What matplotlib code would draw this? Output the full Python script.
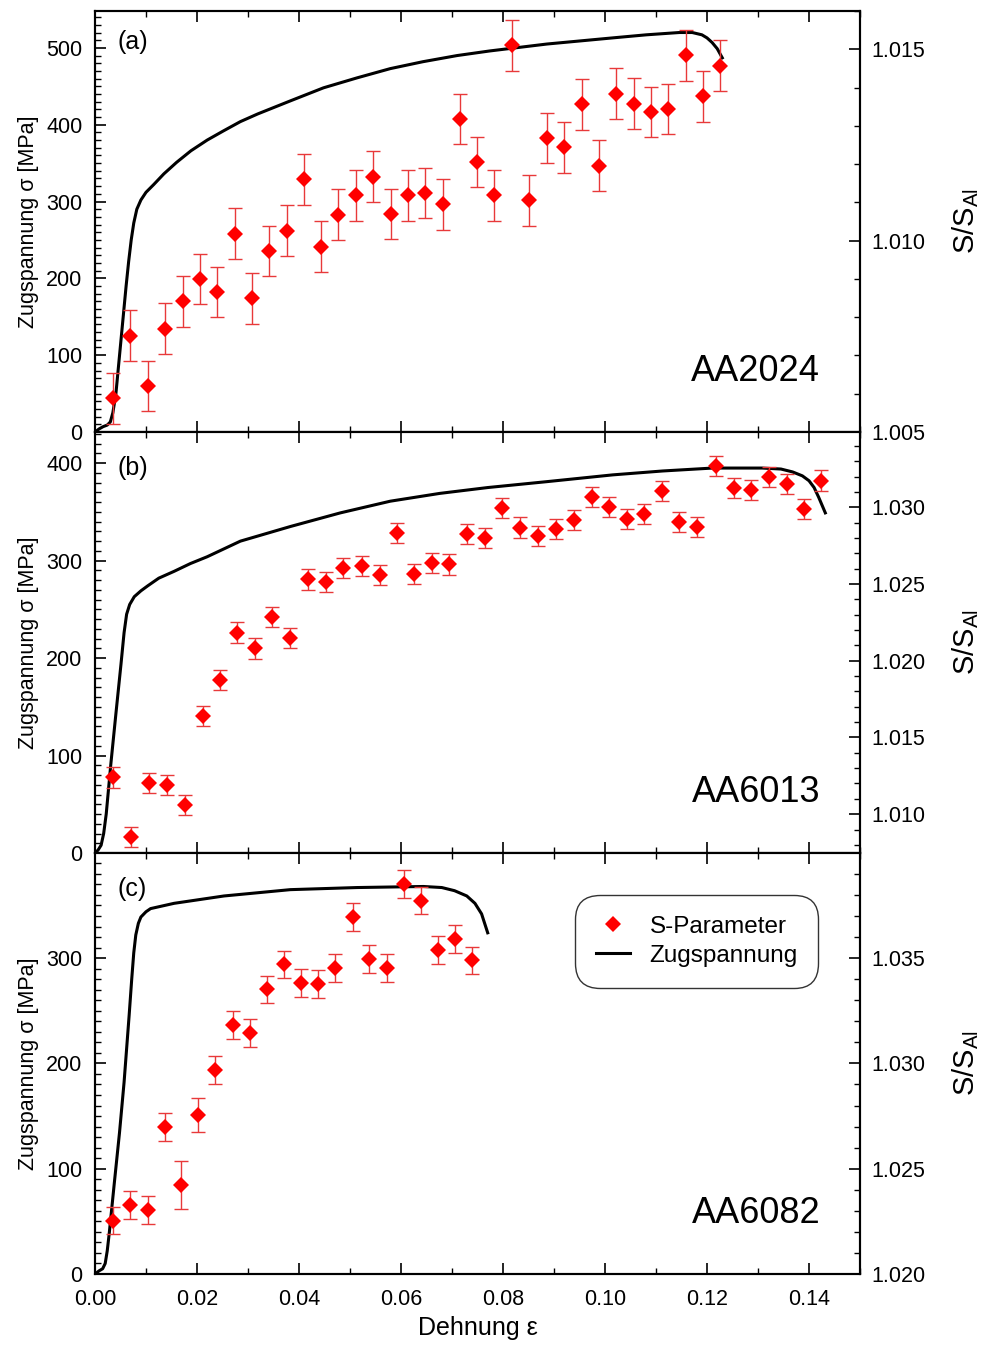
import matplotlib
matplotlib.use("Agg")
import matplotlib.pyplot as plt
from matplotlib.ticker import MultipleLocator, FormatStrFormatter
from matplotlib.lines import Line2D

plt.rcParams['font.family'] = ['Liberation Sans', 'DejaVu Sans']
plt.rcParams['mathtext.fontset'] = 'custom'
plt.rcParams['mathtext.rm'] = 'Liberation Sans'

# ---------------- data ----------------
# (a) AA2024
a_strain_s = [0.0035, 0.0069, 0.0104, 0.0138, 0.0172, 0.0206, 0.0239, 0.0274, 0.0308,
              0.0342, 0.0376, 0.0410, 0.0444, 0.0477, 0.0512, 0.0545, 0.0580, 0.0614,
              0.0648, 0.0682, 0.0716, 0.0749, 0.0783, 0.0817, 0.0851, 0.0886, 0.0920,
              0.0954, 0.0988, 0.1022, 0.1056, 0.1090, 0.1124, 0.1158, 0.1192, 0.1226]
a_S = [1.00588, 1.00752, 1.00620, 1.00770, 1.00841, 1.00900, 1.00866, 1.01018, 1.00849,
       1.00973, 1.01026, 1.01160, 1.00984, 1.01068, 1.01118, 1.01167, 1.01070, 1.01118,
       1.01125, 1.01095, 1.01318, 1.01206, 1.01118, 1.01510, 1.01105, 1.01268, 1.01244,
       1.01356, 1.01196, 1.01384, 1.01358, 1.01336, 1.01344, 1.01484, 1.01377, 1.01457]
a_S_err = [0.00066] * 36
a_strain_t = [0.0, 0.0008, 0.0016, 0.0024, 0.0030, 0.0035, 0.0041, 0.0046, 0.0051, 0.0056,
              0.0061, 0.0066, 0.0071, 0.0076, 0.0082, 0.0090, 0.0100, 0.0115, 0.0135,
              0.0160, 0.0188, 0.0220, 0.0252, 0.0285, 0.0319, 0.0383, 0.0448, 0.0514,
              0.0579, 0.0643, 0.0710, 0.0774, 0.0886, 0.1015, 0.1081, 0.1146, 0.1171,
              0.1190, 0.1200, 0.1210, 0.1220, 0.1230]
a_sigma = [0, 4, 7, 9, 13, 25, 50, 85, 120, 155,
           190, 222, 250, 272, 290, 302, 312, 322, 336,
           351, 366, 380, 392, 404, 414, 431, 448, 461,
           473, 482, 490, 496, 505, 513, 517, 520, 520,
           517, 513, 507, 499, 487]

# (b) AA6013
b_strain_s = [0.0036, 0.0071, 0.0106, 0.0141, 0.0177, 0.0211, 0.0245, 0.0279, 0.0313,
              0.0348, 0.0383, 0.0418, 0.0453, 0.0487, 0.0523, 0.0559, 0.0592, 0.0626,
              0.0661, 0.0695, 0.0729, 0.0764, 0.0799, 0.0834, 0.0869, 0.0904, 0.0939,
              0.0974, 0.1008, 0.1043, 0.1077, 0.1112, 0.1146, 0.1181, 0.1217, 0.1252,
              0.1286, 0.1321, 0.1356, 0.1390, 0.1424]
b_S = [1.01239, 1.00850, 1.01203, 1.01192, 1.01059, 1.01638, 1.01876, 1.02183, 1.02080,
       1.02283, 1.02150, 1.02529, 1.02514, 1.02603, 1.02616, 1.02558, 1.02834, 1.02564,
       1.02638, 1.02627, 1.02827, 1.02801, 1.02995, 1.02867, 1.02812, 1.02858, 1.02919,
       1.03065, 1.03002, 1.02925, 1.02956, 1.03108, 1.02902, 1.02873, 1.03268, 1.03124,
       1.03111, 1.03196, 1.03152, 1.02989, 1.03174]
b_S_err = [0.00066] * 41
b_strain_t = [0.0, 0.0006, 0.0012, 0.0017, 0.0022, 0.0031, 0.0041, 0.0051, 0.0057, 0.0062,
              0.0068, 0.0077, 0.0090, 0.0103, 0.0125, 0.0155, 0.0187, 0.0220, 0.0285,
              0.0383, 0.0481, 0.0579, 0.0676, 0.0770, 0.0885, 0.1015, 0.1113, 0.1211,
              0.1308, 0.1345, 0.1368, 0.1387, 0.1400, 0.1410, 0.1419, 0.1432]
b_sigma = [0, 3, 8, 20, 40, 91, 143, 194, 226, 245,
           255, 263, 269, 274, 282, 289, 297, 304, 320,
           335, 349, 361, 369, 375, 381, 388, 392, 395,
           395, 394, 391, 387, 382, 375, 365, 349]

# (c) AA6082
c_strain_s = [0.0035, 0.0069, 0.0103, 0.0137, 0.0169, 0.0202, 0.0236, 0.0270, 0.0304,
              0.0338, 0.0371, 0.0404, 0.0437, 0.0471, 0.0505, 0.0538, 0.0572, 0.0605,
              0.0639, 0.0673, 0.0706, 0.0740]
c_S = [1.02254, 1.02329, 1.02305, 1.02699, 1.02422, 1.02754, 1.02968, 1.03184, 1.03143,
       1.03351, 1.03470, 1.03382, 1.03376, 1.03452, 1.03695, 1.03497, 1.03454, 1.03851,
       1.03773, 1.03538, 1.03590, 1.03489]
c_S_err = [0.00063, 0.00066, 0.00066, 0.00066, 0.00113, 0.00080, 0.00066, 0.00066, 0.00066,
           0.00066, 0.00066, 0.00066, 0.00066, 0.00066, 0.00066, 0.00066, 0.00066, 0.00066,
           0.00066, 0.00066, 0.00066, 0.00066]
c_strain_t = [0.0, 0.0008, 0.0015, 0.0020, 0.0024, 0.0028, 0.0038, 0.0048, 0.0057, 0.0067,
              0.0072, 0.0076, 0.0080, 0.0085, 0.0090, 0.0100, 0.0109, 0.0155, 0.0253,
              0.0383, 0.0514, 0.0644, 0.0680, 0.0705, 0.0729, 0.0745, 0.0758, 0.0770]
c_sigma = [0, 3, 5, 10, 22, 39, 87, 134, 182, 246,
           280, 305, 322, 333, 339, 344, 347, 352, 359,
           365, 367, 368, 367, 364, 359, 352, 342, 324]

panels = [
    dict(tag="(a)", alloy="AA2024", es=a_strain_s, S=a_S, Serr=a_S_err, et=a_strain_t,
         sig=a_sigma, ylim=(0, 548), ylim2=(1.005, 1.016), tag_y=0.926),
    dict(tag="(b)", alloy="AA6013", es=b_strain_s, S=b_S, Serr=b_S_err, et=b_strain_t,
         sig=b_sigma, ylim=(0, 432), ylim2=(1.00747, 1.0349), tag_y=0.914),
    dict(tag="(c)", alloy="AA6082", es=c_strain_s, S=c_S, Serr=c_S_err, et=c_strain_t,
         sig=c_sigma, ylim=(0, 399.8), ylim2=(1.020, 1.03999), tag_y=0.914),
]

# ---------------- figure ----------------
W, H = 987, 1347
fig = plt.figure(figsize=(W / 100, H / 100), dpi=100)
left = 95 / W
width = (860 - 95) / W
ph = 421 / H
bottom0 = (H - 1274) / H

red = '#ff0000'
ebar_col = '#e8393a'
TICK_FS = 15.5

for i, p in enumerate(panels):
    b = bottom0 + (2 - i) * ph
    ax = fig.add_axes([left, b, width, ph])
    ax2 = ax.twinx()

    ax.plot(p['et'], p['sig'], color='black', lw=2.2, zorder=3,
            solid_joinstyle='round')
    ax2.errorbar(p['es'], p['S'], yerr=p['Serr'], fmt='none',
                 ecolor=ebar_col, elinewidth=1.0, capsize=5, capthick=1.0, zorder=4)
    ax2.plot(p['es'], p['S'], 'D', color=red, ms=7.8, mew=0, zorder=5)

    ax.set_xlim(0, 0.15)
    ax.set_ylim(*p['ylim'])
    ax2.set_ylim(*p['ylim2'])

    ax.xaxis.set_major_locator(MultipleLocator(0.02))
    ax.xaxis.set_minor_locator(MultipleLocator(0.01))
    ax.yaxis.set_major_locator(MultipleLocator(100))
    ax.yaxis.set_minor_locator(MultipleLocator(10))
    ax2.yaxis.set_major_locator(MultipleLocator(0.005))
    ax2.yaxis.set_minor_locator(MultipleLocator(0.001))
    ax2.yaxis.set_major_formatter(FormatStrFormatter('%.3f'))
    ax.xaxis.set_major_formatter(FormatStrFormatter('%.2f'))

    ax.tick_params(axis='x', which='both', direction='in', top=True, bottom=True,
                   labelsize=TICK_FS, pad=11)
    ax.tick_params(axis='y', which='both', direction='in', left=True, right=False,
                   labelsize=TICK_FS, pad=9)
    ax.tick_params(which='major', length=8, width=1.2)
    ax.tick_params(which='minor', length=4.5, width=1.0)
    ax2.tick_params(axis='y', which='both', direction='in', labelsize=TICK_FS, pad=8)
    ax2.tick_params(which='major', length=8, width=1.2)
    ax2.tick_params(which='minor', length=4.5, width=1.0)

    for a in (ax, ax2):
        for s in a.spines.values():
            s.set_linewidth(1.5)

    if i < 2:
        ax.tick_params(axis='x', labelbottom=False)
    else:
        ax.set_xlabel('Dehnung ε', fontsize=18, labelpad=4)

    ax.set_ylabel('Zugspannung σ [MPa]', fontsize=15.5, labelpad=5)
    ax2.set_ylabel(r'$\mathrm{S/S}_{\mathrm{Al}}$', fontsize=21, labelpad=18)

    ax.text(0.03, p['tag_y'], p['tag'], transform=ax.transAxes, fontsize=18,
            ha='left', va='center')
    ax2.text(0.948, 0.12, p['alloy'], transform=ax.transAxes, fontsize=26,
             ha='right', va='baseline')

    if i == 2:
        handles = [Line2D([], [], marker='D', ls='none', color=red, ms=7.8, mew=0),
                   Line2D([], [], color='black', lw=2.2)]
        leg = ax2.legend(handles, ['S-Parameter', 'Zugspannung'], loc='upper right',
                         bbox_to_anchor=(0.952, 0.912), fontsize=17.5, frameon=True,
                         fancybox=True, edgecolor='#333333', framealpha=1,
                         handlelength=1.4, borderpad=0.55, labelspacing=0.3,
                         handletextpad=0.8)
        leg.get_frame().set_boxstyle('round', pad=0.3, rounding_size=1.0)
        leg.get_frame().set_linewidth(1.0)

fig.savefig('out.png', dpi=100)
